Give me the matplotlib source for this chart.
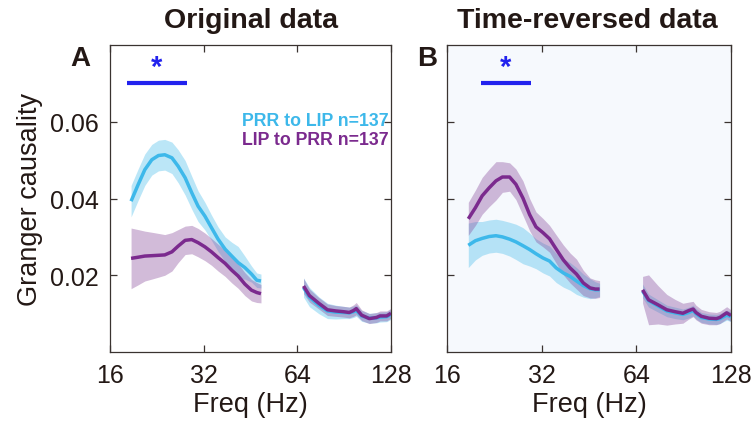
import numpy as np
import matplotlib
matplotlib.use("Agg")
import matplotlib.pyplot as plt
from matplotlib.ticker import FixedLocator, NullLocator

plt.rcParams['font.family'] = ['Liberation Sans', 'DejaVu Sans']

# ---------------- data ----------------
f_low = [18.7, 19.7, 20.7, 21.8, 22.9, 24.0, 25.3, 26.5, 27.9, 29.3, 30.7,
         32.3, 33.9, 35.6, 37.5, 39.4, 41.3, 43.4, 45.6, 47.4, 48.9]
f_high = [67, 70, 75, 80, 85, 90, 94, 97, 99, 103, 109, 115, 118, 124, 128]

# Panel A (original data)
a_blue_low = [0.0393, 0.0436, 0.0475, 0.0501, 0.0512, 0.0514, 0.0506, 0.0484, 0.0454, 0.0415, 0.0380,
              0.0354, 0.0324, 0.0294, 0.0268, 0.0250, 0.0233, 0.0220, 0.0203, 0.0187, 0.0185]
a_blue_low_err = [0.0041, 0.0041, 0.0041, 0.0040, 0.0040, 0.0040, 0.0041, 0.0043, 0.0045, 0.0043, 0.0040,
                  0.0036, 0.0033, 0.0032, 0.0032, 0.0036, 0.0042, 0.0030, 0.0021, 0.0019, 0.0018]
a_purple_low = [0.0244, 0.0247, 0.0250, 0.0251, 0.0252, 0.0253, 0.0261, 0.0276, 0.0291, 0.0293, 0.0285,
                0.0274, 0.0261, 0.0246, 0.0231, 0.0213, 0.0198, 0.0177, 0.0161, 0.0155, 0.0152]
a_purple_low_err = [0.0079, 0.0072, 0.0065, 0.0061, 0.0057, 0.0053, 0.0050, 0.0043, 0.0037, 0.0037, 0.0037,
                    0.0036, 0.0035, 0.0035, 0.0034, 0.0033, 0.0032, 0.0030, 0.0028, 0.0026, 0.0024]
a_purple_high = [0.0172, 0.0147, 0.0127, 0.0110, 0.0107, 0.0105, 0.0103, 0.0108, 0.0113, 0.0096,
                 0.0087, 0.0090, 0.0094, 0.0094, 0.0101]
a_purple_high_err = [0.0020, 0.0017, 0.0015, 0.0015, 0.0014, 0.0014, 0.0014, 0.0015, 0.0016, 0.0014,
                     0.0013, 0.0013, 0.0013, 0.0013, 0.0013]
a_blue_high = [0.0168, 0.0143, 0.0122, 0.0107, 0.0104, 0.0103, 0.0102, 0.0105, 0.0108, 0.0094,
               0.0088, 0.0089, 0.0091, 0.0092, 0.0098]
a_blue_high_err = [0.0025, 0.0025, 0.0022, 0.0020, 0.0018, 0.0016, 0.0015, 0.0015, 0.0015, 0.0014,
                   0.0013, 0.0013, 0.0013, 0.0013, 0.0013]

# Panel B (time-reversed data)
b_blue_low = [0.0278, 0.0290, 0.0296, 0.0301, 0.0303, 0.0300, 0.0294, 0.0287, 0.0277, 0.0267, 0.0256,
              0.0245, 0.0237, 0.0219, 0.0206, 0.0197, 0.0185, 0.0173, 0.0165, 0.0162, 0.0162]
b_blue_low_err = [0.0058, 0.0050, 0.0044, 0.0043, 0.0043, 0.0043, 0.0044, 0.0046, 0.0047, 0.0043, 0.0039,
                  0.0039, 0.0039, 0.0038, 0.0037, 0.0036, 0.0035, 0.0030, 0.0026, 0.0021, 0.0017]
b_purple_low = [0.0347, 0.0376, 0.0407, 0.0428, 0.0446, 0.0456, 0.0456, 0.0437, 0.0401, 0.0358, 0.0326,
                0.0311, 0.0295, 0.0268, 0.0240, 0.0219, 0.0203, 0.0180, 0.0167, 0.0164, 0.0164]
b_purple_low_err = [0.0043, 0.0046, 0.0048, 0.0049, 0.0050, 0.0040, 0.0037, 0.0040, 0.0045, 0.0042, 0.0039,
                    0.0037, 0.0035, 0.0037, 0.0039, 0.0039, 0.0039, 0.0033, 0.0026, 0.0024, 0.0022]
b_purple_high = [0.0162, 0.0136, 0.0123, 0.0110, 0.0105, 0.0101, 0.0108, 0.0112, 0.0103, 0.0093,
                 0.0088, 0.0087, 0.0090, 0.0102, 0.0095]
b_purple_high_err = [0.0035, 0.0065, 0.0050, 0.0040, 0.0032, 0.0026, 0.0022, 0.0020, 0.0019, 0.0018,
                     0.0017, 0.0016, 0.0016, 0.0016, 0.0015]
b_blue_high = [0.0159, 0.0134, 0.0120, 0.0107, 0.0102, 0.0098, 0.0103, 0.0108, 0.0100, 0.0090,
               0.0086, 0.0085, 0.0087, 0.0096, 0.0092]
b_blue_high_err = [0.0018, 0.0017, 0.0016, 0.0015, 0.0015, 0.0014, 0.0014, 0.0014, 0.0014, 0.0013,
                   0.0013, 0.0013, 0.0013, 0.0013, 0.0013]

# significance bars (freq start, freq end, y) and star (freq, y)
a_sig = (18.1, 28.3, 0.0701)
a_star = (22.6, 0.0742)
b_sig = (20.5, 29.7, 0.0701)
b_star = (24.6, 0.0742)

x_ticks = [16, 32, 64, 128]
x_ticklabels = ["16", "32", "64", "128"]
y_ticks = [0.02, 0.04, 0.06]
y_ticklabels = ["0.02", "0.04", "0.06"]

legend_labels = ["PRR to LIP n=137", "LIP to PRR n=137"]
titles = ["Original data", "Time-reversed data"]
letters = ["A", "B"]

# ---------------- style ----------------
BLUE = "#3db8ea"
BLUE_FILL = "#3db8ea"
PURPLE = "#7b2a8e"
PURPLE_FILL = "#8a4c9c"
SIG = "#2222ee"
TXT = "#231815"
SPINE = "#3a3330"

fig = plt.figure(figsize=(7.54, 4.35), dpi=100)
axA = fig.add_axes([110/754, 82/435, 281/754, 307/435])
axB = fig.add_axes([447/754, 82/435, 284/754, 307/435])
axB.set_facecolor("#f6f9fd")


def draw(ax, blow, blow_e, plow, plow_e, bhigh, bhigh_e, phigh, phigh_e, sig, star):
    for f, m, e, fc, a in [
        (f_low, blow, blow_e, BLUE_FILL, 0.35),
        (f_high, bhigh, bhigh_e, BLUE_FILL, 0.35),
        (f_low, plow, plow_e, PURPLE_FILL, 0.38),
        (f_high, phigh, phigh_e, PURPLE_FILL, 0.38),
    ]:
        m = np.array(m)
        e = np.array(e)
        ax.fill_between(f, m - e, m + e, color=fc, alpha=a, linewidth=0)
    for f, m in [(f_low, blow), (f_high, bhigh)]:
        ax.plot(f, m, color=BLUE, lw=2.5, solid_capstyle='butt', solid_joinstyle='round', zorder=3)
    for f, m in [(f_low, plow), (f_high, phigh)]:
        ax.plot(f, m, color=PURPLE, lw=2.5, solid_capstyle='butt', solid_joinstyle='round', zorder=4)
    ax.plot([sig[0], sig[1]], [sig[2], sig[2]], color=SIG, lw=3, solid_capstyle='butt')
    ax.text(star[0], star[1], "*", color=SIG, fontsize=21, fontweight='bold',
            ha='center', va='center')
    ax.set_xscale('log', base=2)
    ax.set_xlim(16, 128)
    ax.set_ylim(0, 0.08)
    ax.xaxis.set_major_locator(FixedLocator(x_ticks))
    ax.xaxis.set_minor_locator(NullLocator())
    ax.set_xticklabels(x_ticklabels)
    ax.yaxis.set_major_locator(FixedLocator(y_ticks))
    ax.tick_params(direction='in', length=5, width=0.9, color=SPINE,
                   top=True, right=True, labelsize=18, labelcolor=TXT, pad=8)
    for s in ax.spines.values():
        s.set_color(SPINE)
        s.set_linewidth(0.9)
    ax.set_xlabel("Freq (Hz)", fontsize=19.5, color=TXT, labelpad=3)


draw(axA, a_blue_low, a_blue_low_err, a_purple_low, a_purple_low_err,
     a_blue_high, a_blue_high_err, a_purple_high, a_purple_high_err, a_sig, a_star)
draw(axB, b_blue_low, b_blue_low_err, b_purple_low, b_purple_low_err,
     b_blue_high, b_blue_high_err, b_purple_high, b_purple_high_err, b_sig, b_star)

axA.set_yticklabels(y_ticklabels)
axB.set_yticklabels([])
axA.set_ylabel("Granger causality", fontsize=19.5, color=TXT, labelpad=5)

axA.text(0.99, 0.754, legend_labels[0], transform=axA.transAxes, color=BLUE,
         fontsize=12.8, fontweight='bold', ha='right', va='center')
axA.text(0.99, 0.693, legend_labels[1], transform=axA.transAxes, color=PURPLE,
         fontsize=12.8, fontweight='bold', ha='right', va='center')

fig.text(251/754, 1 - 21/435, titles[0], fontsize=20.5, fontweight='bold', color=TXT,
         ha='center', va='center')
fig.text(587/754, 1 - 21/435, titles[1], fontsize=20.5, fontweight='bold', color=TXT,
         ha='center', va='center')
fig.text(80/754, 1 - 59/435, letters[0], fontsize=20, fontweight='bold', color=TXT,
         ha='center', va='center')
fig.text(427/754, 1 - 59/435, letters[1], fontsize=20, fontweight='bold', color=TXT,
         ha='center', va='center')

fig.savefig("out.png", dpi=100)
